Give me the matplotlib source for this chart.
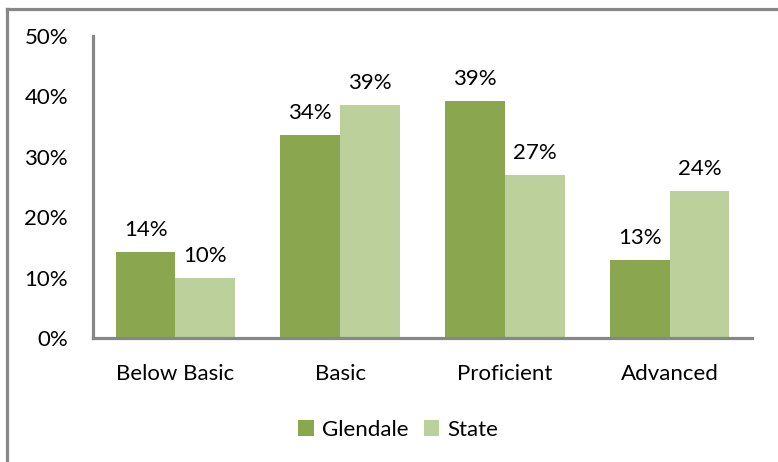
import numpy as np
import matplotlib.pyplot as plt
from matplotlib.lines import Line2D

categories = ['Below Basic', 'Basic', 'Proficient', 'Advanced']
glendale = [14.2, 33.6, 39.2, 12.9]
state = [9.9, 38.6, 27.0, 24.4]
yticks = [0, 10, 20, 30, 40, 50]

dark_green = '#8aa64f'
light_green = '#bbd09a'
grey = '#878787'

plt.rcParams['font.family'] = ['Lato', 'DejaVu Sans']
fs = 16

fig = plt.figure(figsize=(7.78, 4.62), dpi=100)
ax = fig.add_axes([93 / 778, 1 - 338 / 462, 659 / 778, 302 / 462])

x = np.arange(len(categories))
w = 0.362
b1 = ax.bar(x - w / 2, glendale, w, color=dark_green, label='Glendale')
b2 = ax.bar(x + w / 2, state, w, color=light_green, label='State')

for bars, vals in [(b1, glendale), (b2, state)]:
    for bar, v in zip(bars, vals):
        ax.text(bar.get_x() + bar.get_width() / 2, v + 2.0, '%.0f%%' % v,
                ha='center', va='bottom', fontsize=fs)

ax.set_xlim(-0.5, len(categories) - 0.5)
ax.set_ylim(0, 50)
ax.set_yticks(yticks)
ax.set_yticklabels(['%d%%' % t for t in yticks], fontsize=fs)
ax.set_xticks(x)
ax.set_xticklabels(categories, fontsize=fs)
ax.tick_params(length=0)
ax.tick_params(axis='y', pad=18)
ax.tick_params(axis='x', pad=19)

for s in ['top', 'right']:
    ax.spines[s].set_visible(False)
for s in ['left', 'bottom']:
    ax.spines[s].set_color(grey)
    ax.spines[s].set_linewidth(2.3)

leg = fig.legend(loc='center', bbox_to_anchor=(398 / 778, 1 - 430 / 462), ncol=2,
                 frameon=False, fontsize=fs, handlelength=0.7, handleheight=0.7,
                 handletextpad=0.35, columnspacing=0.7)

# outer chart frame (top and left visible)
fig.add_artist(Line2D([7 / 778, 7 / 778], [0, 1 - 9 / 462], transform=fig.transFigure,
                      color=grey, lw=2.3))
fig.add_artist(Line2D([7 / 778, 1], [1 - 9 / 462, 1 - 9 / 462], transform=fig.transFigure,
                      color=grey, lw=2.3))

fig.savefig('out.png', dpi=100)
